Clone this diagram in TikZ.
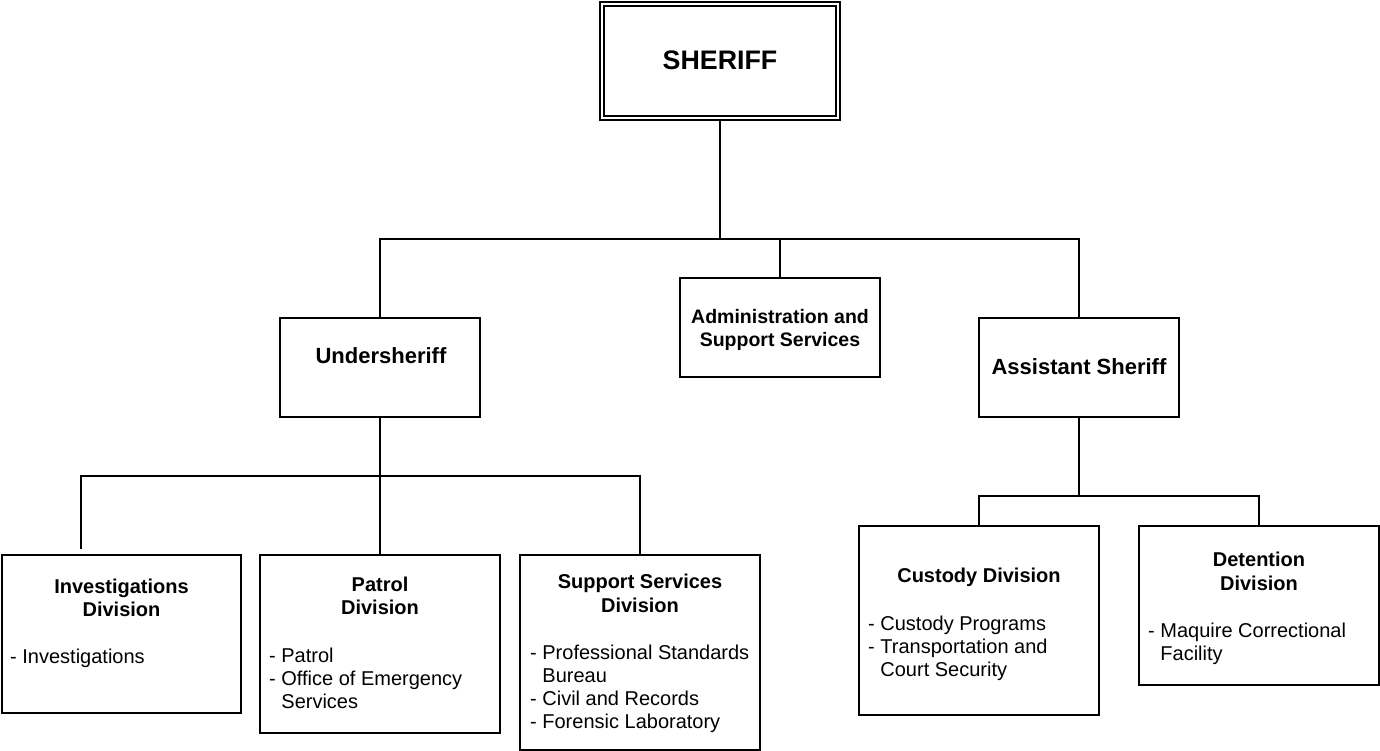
\documentclass[tikz,border=0pt]{standalone}
\usepackage{fontspec}
\setmainfont{Liberation Sans}
\usetikzlibrary{backgrounds}
\tikzset{
  box/.style={draw, line width=1.6pt, rectangle, inner sep=0pt, fill=white},
  conn/.style={line width=1.7pt},
  bigtitle/.style={font=\bfseries\fontsize{26.8}{30}\selectfont, anchor=base, inner sep=0pt},
  midtitle/.style={font=\bfseries\fontsize{22}{25}\selectfont, anchor=base, inner sep=0pt, align=center},
  divtitle/.style={font=\bfseries\fontsize{20}{23}\selectfont, anchor=base, inner sep=0pt, align=center},
  items/.style={font=\fontsize{20}{23}\selectfont, anchor=base west, inner sep=0pt, align=left},
}
\begin{document}
\begin{tikzpicture}[x=1pt,y=-1pt]
\useasboundingbox (0,0) rectangle (1380,751);
% boxes
\node[box, double, line width=1.3pt, double distance=2.6pt, minimum width=236pt, minimum height=114pt] (sheriff) at (720,61) {};
\node[box, minimum width=200pt, minimum height=99pt] (admin) at (780,327.5) {};
\node[box, minimum width=200pt, minimum height=99pt] (under) at (380,367.5) {};
\node[box, minimum width=200pt, minimum height=99pt] (assist) at (1079,367.5) {};
\node[box, minimum width=239pt, minimum height=158pt] (inv) at (121.5,634) {};
\node[box, minimum width=240pt, minimum height=178pt] (patrol) at (380,644) {};
\node[box, minimum width=240pt, minimum height=195pt] (support) at (640,652.5) {};
\node[box, minimum width=240pt, minimum height=189pt] (custody) at (979,620.5) {};
\node[box, minimum width=240pt, minimum height=159pt] (detention) at (1259,605.5) {};
% connectors
\coordinate (bus1) at (720,239);
\coordinate (bus2) at (380,476);
\coordinate (bus3) at (1079,496);
\coordinate (invtop) at (81,549);
\begin{scope}[on background layer]
\draw[conn] (sheriff.south) -- (bus1);
\draw[conn] (under.north) |- (assist.north |- bus1) -- (assist.north);
\draw[conn] (admin.north) -- (admin.north |- bus1);
\draw[conn] (under.south) -- (bus2);
\draw[conn] (invtop) |- (support.north |- bus2) -- (support.north);
\draw[conn] (patrol.north) -- (patrol.north |- bus2);
\draw[conn] (assist.south) -- (bus3);
\draw[conn] (custody.north) |- (detention.north |- bus3) -- (detention.north);
\end{scope}
% texts (anchor base = baseline of the last line)
\node[bigtitle] (t-sheriff) at (720,70) {SHERIFF};
\node[midtitle] (t-under) at (381,363) {Undersheriff};
\node[divtitle, font=\bfseries\fontsize{19.5}{23}\selectfont] (t-admin) at (780,346) {Administration and\\Support Services};
\node[midtitle] (t-assist) at (1079,374) {Assistant Sheriff};
\node[divtitle] (t-inv) at (121.5,616) {Investigations\\Division};
\node[items] (i-inv) at (10,663) {- Investigations};
\node[divtitle, font=\bfseries\fontsize{20}{22.5}\selectfont] (t-patrol) at (380,614) {Patrol\\Division};
\node[items] (i-patrol) at (269,708) {- Patrol\\- Office of Emergency\\\phantom{- }Services};
\node[divtitle, font=\bfseries\fontsize{20}{24}\selectfont] (t-support) at (640,612) {Support Services\\Division};
\node[items, font=\fontsize{20}{22.7}\selectfont] (i-support) at (530,728) {- Professional Standards\\\phantom{- }Bureau\\- Civil and Records\\- Forensic Laboratory};
\node[divtitle] (t-custody) at (979,582) {Custody Division};
\node[items] (i-custody) at (868,676) {- Custody Programs\\- Transportation and\\\phantom{- }Court Security};
\node[divtitle, font=\bfseries\fontsize{20}{24}\selectfont] (t-detention) at (1259,590) {Detention\\Division};
\node[items] (i-detention) at (1148,660) {- Maquire Correctional\\\phantom{- }Facility};
\end{tikzpicture}
\end{document}
